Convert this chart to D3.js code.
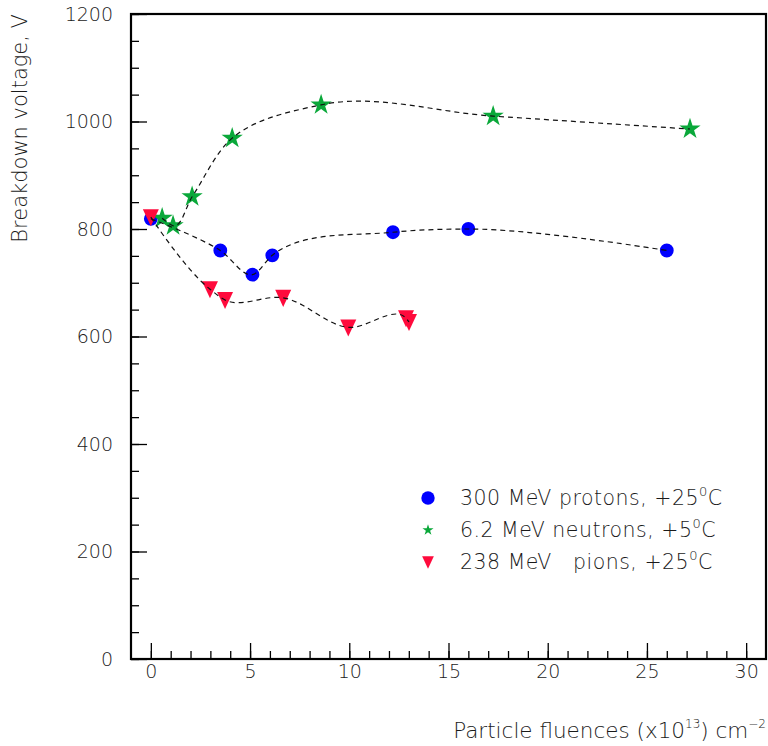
<!DOCTYPE html>
<html>
<head>
<meta charset="utf-8">
<script src="https://cdn.jsdelivr.net/npm/d3@7"></script>
<style>
  html, body { margin: 0; padding: 0; background: #fff; }
  svg text { font-family: "DejaVu Sans", sans-serif; font-weight: 200; fill: #1a1a1a; white-space: pre; }
</style>
</head>
<body>
<svg id="chart" width="768" height="746"></svg>
<script>
// ---- data ----
const protonX = [0, 3.5, 5.12, 6.12, 12.2, 16.0, 26.0];
const protonY = [819, 760, 715, 751, 794, 800, 760];

const neutronX = [0.57, 1.12, 2.08, 4.1, 8.58, 17.25, 27.17];
const neutronY = [820, 806, 860, 969, 1031, 1010, 986];

const pionX = [0, 2.98, 3.74, 6.67, 9.95, 12.86, 13.01];
const pionY = [822, 688, 668, 672, 617, 634, 627];

const xMajorTicks = [0, 5, 10, 15, 20, 25, 30];
const yMajorTicks = [0, 200, 400, 600, 800, 1000, 1200];

const legendLabels = [
  ["300 MeV protons, +25", "C"],
  ["6.2 MeV neutrons, +5", "C"],
  ["238 MeV   pions, +25", "C"]
];

// ---- layout ----
const svg = d3.select("#chart");
const x = d3.scaleLinear().domain([-1, 31]).range([131, 766]);
const y = d3.scaleLinear().domain([0, 1200]).range([659, 14]);

const colors = { p: "#0000ff", n: "#0aa83a", pi: "#ff0a3c" };

// axes
const xMinor = d3.axisBottom(x).tickValues(d3.range(0, 31, 1)).tickSize(-8).tickFormat("");
const xMajor = d3.axisBottom(x).tickValues(xMajorTicks).tickSize(-16).tickPadding(6).tickFormat(d3.format("d"));
const yMinor = d3.axisLeft(y).tickValues(d3.range(0, 1201, 50)).tickSize(-8).tickFormat("");
const yMajor = d3.axisLeft(y).tickValues(yMajorTicks).tickSize(-16).tickPadding(18).tickFormat(d3.format("d"));

function styleAxis(g) {
  g.select(".domain").remove();
  g.selectAll(".tick line").attr("stroke", "#000").attr("stroke-width", 1.3);
  g.selectAll(".tick text").attr("font-size", 19).attr("fill", "#1a1a1a")
    .style("font-family", "'DejaVu Sans', sans-serif").style("font-weight", 200);
}
svg.append("g").attr("transform", `translate(0,${y(0)})`).call(xMinor).call(styleAxis);
svg.append("g").attr("transform", `translate(0,${y(0)})`).call(xMajor).call(styleAxis);
svg.append("g").attr("transform", `translate(${x(-1)},0)`).call(yMinor).call(styleAxis);
svg.append("g").attr("transform", `translate(${x(-1)},0)`).call(yMajor).call(styleAxis);

// frame
svg.append("rect")
  .attr("x", x(-1)).attr("y", y(1200))
  .attr("width", x(31) - x(-1)).attr("height", y(0) - y(1200))
  .attr("fill", "none").attr("stroke", "#000").attr("stroke-width", 2.2);

// marker symbols
const triDown = {
  draw(ctx, size) {
    const s = Math.sqrt(size);
    ctx.moveTo(-s * 0.7, -s * 0.7);
    ctx.lineTo(s * 0.7, -s * 0.7);
    ctx.lineTo(0, s * 0.8);
    ctx.closePath();
  }
};

function zip(xs, ys) { return xs.map((v, i) => [v, ys[i]]); }
const protons = zip(protonX, protonY);
const neutrons = zip(neutronX, neutronY);
const pions = zip(pionX, pionY);

const markers = svg.append("g");
markers.selectAll(".p").data(protons).join("path")
  .attr("d", d3.symbol(d3.symbolCircle, 150))
  .attr("transform", d => `translate(${x(d[0])},${y(d[1])})`)
  .attr("fill", colors.p);
markers.selectAll(".n").data(neutrons).join("path")
  .attr("d", d3.symbol(d3.symbolStar, 140))
  .attr("transform", d => `translate(${x(d[0])},${y(d[1])})`)
  .attr("fill", colors.n);
markers.selectAll(".pi").data(pions).join("path")
  .attr("d", d3.symbol(triDown, 130))
  .attr("transform", d => `translate(${x(d[0])},${y(d[1])})`)
  .attr("fill", colors.pi);

// smooth dashed curves
const line = d3.line().x(d => x(d[0])).y(d => y(d[1])).curve(d3.curveCatmullRom.alpha(1));
[protons, neutrons, pions].forEach(data => {
  svg.append("path").attr("d", line(data))
    .attr("fill", "none").attr("stroke", "#111").attr("stroke-width", 1.2)
    .attr("stroke-dasharray", "5,4");
});

// legend
const legSyms = [
  [d3.symbol(d3.symbolCircle, 140), colors.p],
  [d3.symbol(d3.symbolStar, 38), colors.n],
  [d3.symbol(triDown, 70), colors.pi]
];
const legY = [498, 530, 562];
legendLabels.forEach((lab, i) => {
  svg.append("path").attr("d", legSyms[i][0]())
    .attr("transform", `translate(428,${legY[i]})`).attr("fill", legSyms[i][1]);
  const t = svg.append("text").attr("x", 460).attr("y", legY[i] + 7)
    .attr("font-size", 20.5).attr("letter-spacing", 0.5);
  t.append("tspan").text(lab[0]);
  t.append("tspan").attr("font-size", 13).attr("dy", -9).text("0");
  t.append("tspan").attr("dy", 9).text(lab[1]);
});

// axis titles
const xt = svg.append("text").attr("x", 766).attr("y", 738).attr("text-anchor", "end").attr("font-size", 21.5);
xt.append("tspan").text("Particle fluences (x10");
xt.append("tspan").attr("font-size", 12).attr("dy", -10).text("13");
xt.append("tspan").attr("dy", 10).text(") cm");
xt.append("tspan").attr("font-size", 12).attr("dy", -10).text("\u22122");

svg.append("text").attr("transform", "translate(27,14) rotate(-90)")
  .attr("text-anchor", "end").attr("font-size", 21).text("Breakdown voltage, V");
</script>
</body>
</html>
